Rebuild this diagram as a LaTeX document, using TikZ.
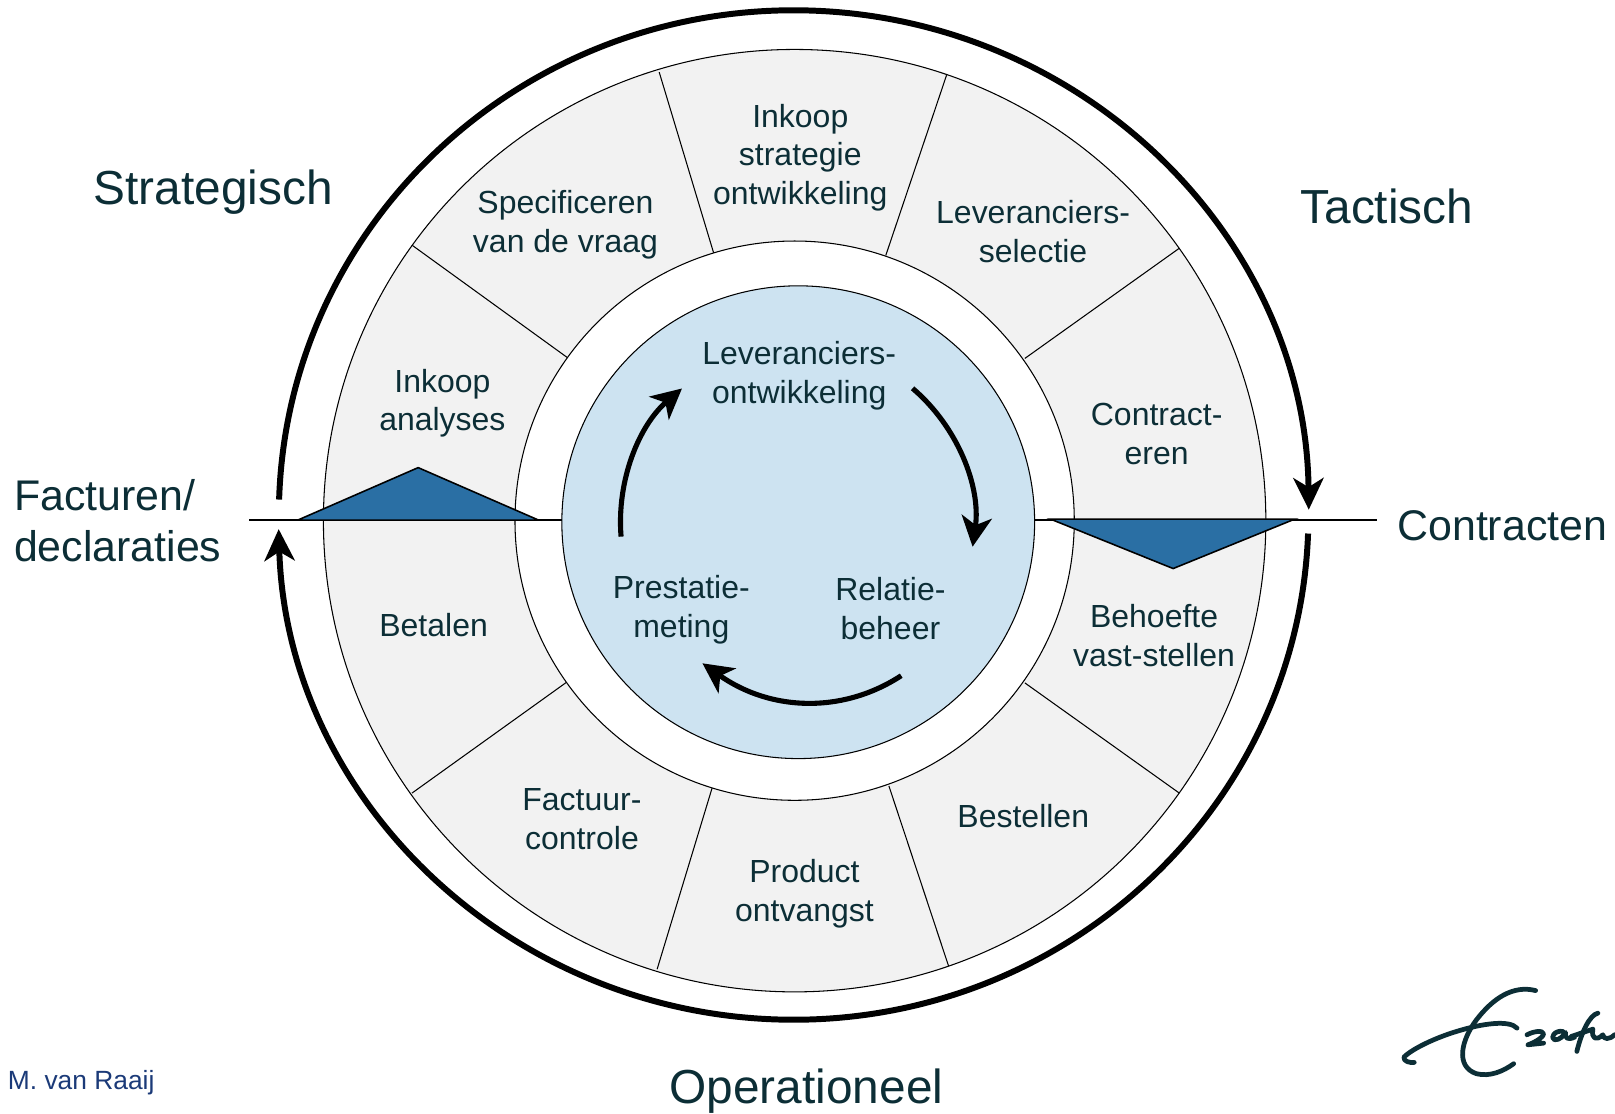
\documentclass[tikz,border=0pt]{standalone}
\usepackage{fontspec}
\setmainfont{Liberation Sans}
\usetikzlibrary{arrows.meta}
\definecolor{labeltext}{HTML}{0C2E36}
\definecolor{footertext}{HTML}{1B3A78}
\definecolor{ringgrey}{HTML}{F2F2F2}
\definecolor{discblue}{HTML}{CDE3F1}
\definecolor{wedgeblue}{HTML}{2A6FA4}
\tikzstyle{steplabel} = [text=labeltext, align=center, inner sep=0pt,
font=\fontsize{9.1}{11}\selectfont]
\tikzstyle{phaselabel} = [text=labeltext, align=center, inner sep=0pt,
font=\fontsize{13.6}{14.4}\selectfont]
\tikzstyle{sidelabel} = [text=labeltext, align=left, anchor=west, inner sep=0pt,
font=\fontsize{12.2}{14.4}\selectfont]
\tikzstyle{outerarrow} = [line width=1.7pt, -{Stealth[length=9pt,width=8.6pt,inset=2.6pt]}]
\tikzstyle{innerarrow} = [line width=1.45pt, -{Stealth[length=8.6pt,width=8.6pt,inset=2.4pt]}]
\tikzstyle{axisline} = [line width=0.7pt]
\tikzstyle{wedge} = [draw=black, fill=wedgeblue, line width=0.45pt]
\tikzstyle{signature} = [draw=labeltext, line width=1.35pt, line cap=round, line join=round]

\begin{document}
\begin{tikzpicture}[x=0.0103cm,y=0.0103cm]
		\useasboundingbox (0,0) rectangle (1568,-1081);
		%ring
		\draw [fill=ringgrey, line width=0.3pt] (771.5,-505.5) circle [radius=457.5];
		\foreach \xa/\ya/\xb/\yb in {640/70/693/246, 919/73/860/248, 1145/241/995/348,
			1145/770/995/663, 921/938/863/763, 638/941/692/763, 400/770/552/661, 400/238/552/348}
			\draw [line width=0.3pt] (\xa,-\ya) -- (\xb,-\yb);
		\draw [fill=white, line width=0.3pt] (771.5,-505.5) circle [radius=271.5];
		\draw [fill=discblue, line width=0.3pt] (775,-507) circle [radius=229.5];
		%axis and wedges
		\coordinate (leftend) at (242,-505);
		\coordinate (leftdisc) at (546,-505);
		\coordinate (rightdisc) at (1004,-505);
		\coordinate (rightend) at (1337,-505);
		\draw [axisline] (leftend) -- (leftdisc);
		\draw [axisline] (rightdisc) -- (rightend);
		\draw [wedge] (289,-505) -- (406,-454) -- (523,-505) -- cycle;
		\draw [wedge] (1020,-504) -- (1257,-504) -- (1139,-552) -- cycle;
		%outer arrows
		\draw [outerarrow] (271,-485) arc [start angle=178.25, end angle=0.6, x radius=500, y radius=490];
		\draw [outerarrow] (1270,-518) arc [start angle=-2.1, end angle=-178.4, x radius=500, y radius=490];
		%inner arrows
		\draw [innerarrow] (603,-521) arc [start angle=184.7, end angle=130.6, radius=171];
		\draw [innerarrow] (886,-377) arc [start angle=49.5, end angle=-8, radius=171];
		\draw [innerarrow] (875,-656) .. controls (820,-692) and (750,-692) .. (682,-644);
		%labels
		\node [steplabel] (strategie) at (777,-153) {Inkoop\\strategie\\ontwikkeling};
		\node [steplabel] (specificeren) at (549,-218) {Specificeren\\van de vraag};
		\node [steplabel] (selectie) at (1003,-225) {Leveranciers-\\selectie};
		\node [steplabel] (contracteren) at (1123,-421.5) {Contract-\\eren};
		\node [steplabel] (behoefte) at (1120.5,-617) {Behoefte\\vast-stellen};
		\node [steplabel] (bestellen) at (993.5,-792) {Bestellen};
		\node [steplabel] (ontvangst) at (781,-867.5) {Product\\ontvangst};
		\node [steplabel] (controle) at (565,-795.5) {Factuur-\\controle};
		\node [steplabel] (betalen) at (421,-607) {Betalen};
		\node [steplabel] (analyses) at (429.5,-391.5) {Inkoop\\analyses};
		\node [steplabel] (ontwikkeling) at (776,-365) {Leveranciers-\\ontwikkeling};
		\node [steplabel] (relatie) at (864.5,-591) {Relatie-\\beheer};
		\node [steplabel] (prestatie) at (661.5,-592) {Prestatie-\\meting};
		\node [phaselabel] (strategisch) at (207,-187) {Strategisch};
		\node [phaselabel] (tactisch) at (1346.5,-200) {Tactisch};
		\node [phaselabel] (operationeel) at (783,-1059) {Operationeel};
		\node [sidelabel] (contracten) at (1356,-510) {Contracten};
		\node [sidelabel] (facturen) at (13,-505.5) {Facturen/\\declaraties};
		\node [anchor=west, inner sep=0pt, text=footertext, font=\fontsize{7.5}{9}\selectfont] (auteur) at (7,-1051) {M. van Raaij};
		%logo
		\begin{scope}[shift={(1339.8,-941.7)},x=0.00333cm,y=-0.00333cm]
			\draw [signature] (468,62) .. controls (400,45) and (340,85) .. (290,150)
				.. controls (245,210) and (225,290) .. (290,312) .. controls (330,322) and (370,305) .. (402,282);
			\draw [signature] (412,175) .. controls (390,150) and (310,160) .. (230,185)
				.. controls (170,203) and (100,235) .. (72,262) .. controls (70,275) and (90,280) .. (103,278);
			\draw [signature] (442,195) .. controls (460,185) and (490,180) .. (492,192)
				.. controls (490,205) and (460,220) .. (445,225) -- (492,220);
			\draw [signature] (550,185) .. controls (525,180) and (510,205) .. (525,210)
				.. controls (540,212) and (555,195) .. (558,188) .. controls (555,205) and (565,212) .. (585,202);
			\draw [signature] (655,130) .. controls (630,135) and (605,190) .. (592,245);
			\draw [signature] (575,200) -- (640,178);
			\draw [signature] (640,180) .. controls (635,205) and (650,215) .. (670,195) .. controls (672,210) and (690,210) .. (705,195);
		\end{scope}
\end{tikzpicture}
\end{document}
